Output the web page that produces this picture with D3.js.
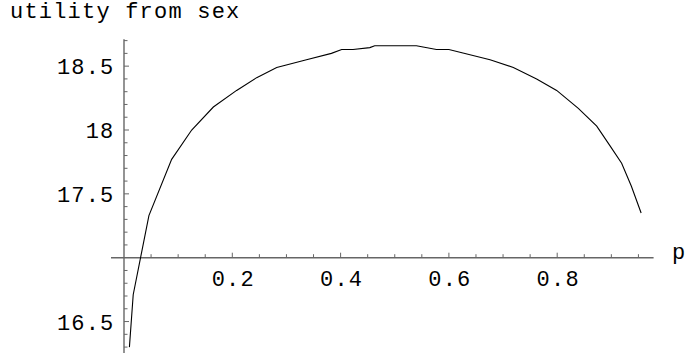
<!DOCTYPE html>
<html>
<head>
<meta charset="utf-8">
<script src="https://cdn.jsdelivr.net/npm/d3@7"></script>
<style>
  html, body { margin: 0; padding: 0; background: #fff; }
  svg { display: block; }
  text { font-family: "Liberation Mono", "Courier New", monospace; fill: #000; letter-spacing: 1.2px; }
</style>
</head>
<body>
<svg id="chart" width="686" height="358"></svg>
<script>
// Utility from sex as a function of p
const pValues = [0.010, 0.017, 0.046, 0.088, 0.125, 0.165, 0.208, 0.245, 0.282, 0.337,
                 0.383, 0.402, 0.423, 0.454, 0.463, 0.540, 0.577, 0.600, 0.676, 0.719,
                 0.762, 0.799, 0.839, 0.873, 0.897, 0.919, 0.937, 0.955];
const utility = [16.30, 16.71, 17.33, 17.77, 18.00, 18.18, 18.31, 18.41, 18.49, 18.55,
                 18.60, 18.63, 18.63, 18.645, 18.66, 18.66, 18.63, 18.63, 18.55, 18.49,
                 18.40, 18.31, 18.17, 18.03, 17.88, 17.74, 17.56, 17.35];

const xTickLabels = [0.2, 0.4, 0.6, 0.8];
const yTickLabels = [16.5, 17.5, 18, 18.5];
const yAxisTitle = "utility from sex";
const xAxisTitle = "p";

const svg = d3.select("#chart");

// Axes cross at p = 0, utility = 17
const x = d3.scaleLinear().domain([0, 1]).range([124, 665.5]);
const y = d3.scaleLinear().domain([17, 18]).range([257.7, 130]);

const xMin = -0.024, xMax = 0.978;
const yMin = 16.254, yMax = 18.711;
const axisColor = "#666";
const fontSize = 22;

// minor/major ticks
const xMinor = d3.range(1, 20).map(i => i * 0.05).filter(v => v < xMax);
const yMinor = d3.range(163, 188).map(i => i / 10).filter(v => v >= yMin && v <= yMax && Math.abs(v - 17) > 1e-6);

const g = svg.append("g");

// x axis line
g.append("line")
  .attr("x1", x(xMin)).attr("x2", x(xMax))
  .attr("y1", y(17)).attr("y2", y(17))
  .attr("stroke", axisColor).attr("stroke-width", 1.4);

// y axis line
g.append("line")
  .attr("x1", x(0)).attr("x2", x(0))
  .attr("y1", y(yMax)).attr("y2", y(yMin))
  .attr("stroke", axisColor).attr("stroke-width", 1.4);

const isMajorX = v => xTickLabels.some(t => Math.abs(t - v) < 1e-6);
const isMajorY = v => yTickLabels.some(t => Math.abs(t - v) < 1e-6);

g.selectAll("line.xtick").data(xMinor).enter().append("line")
  .attr("class", "xtick")
  .attr("x1", d => x(d)).attr("x2", d => x(d))
  .attr("y1", y(17)).attr("y2", d => y(17) - (isMajorX(d) ? 5 : 3.5))
  .attr("stroke", axisColor).attr("stroke-width", 1);

g.selectAll("line.ytick").data(yMinor).enter().append("line")
  .attr("class", "ytick")
  .attr("x1", x(0)).attr("x2", d => x(0) + (isMajorY(d) ? 5 : 3.5))
  .attr("y1", d => y(d)).attr("y2", d => y(d))
  .attr("stroke", axisColor).attr("stroke-width", 1);

// tick labels
g.selectAll("text.xlab").data(xTickLabels).enter().append("text")
  .attr("class", "xlab")
  .attr("x", d => x(d) + 1).attr("y", y(17) + 28.5)
  .attr("text-anchor", "middle")
  .attr("font-size", fontSize)
  .text(d => d3.format(".1f")(d));

g.selectAll("text.ylab").data(yTickLabels).enter().append("text")
  .attr("class", "ylab")
  .attr("x", 114.5).attr("y", d => y(d) + 8)
  .attr("text-anchor", "end")
  .attr("font-size", fontSize)
  .text(d => String(d));

// axis titles
g.append("text").attr("x", 10).attr("y", 18)
  .attr("font-size", fontSize).text(yAxisTitle);
g.append("text").attr("x", 672).attr("y", 259)
  .attr("font-size", fontSize).text(xAxisTitle);

// curve
const line = d3.line()
  .x((d, i) => x(pValues[i]))
  .y(d => y(d));

g.append("path")
  .datum(utility)
  .attr("d", line)
  .attr("fill", "none")
  .attr("stroke", "#000")
  .attr("stroke-width", 1.1);
</script>
</body>
</html>
